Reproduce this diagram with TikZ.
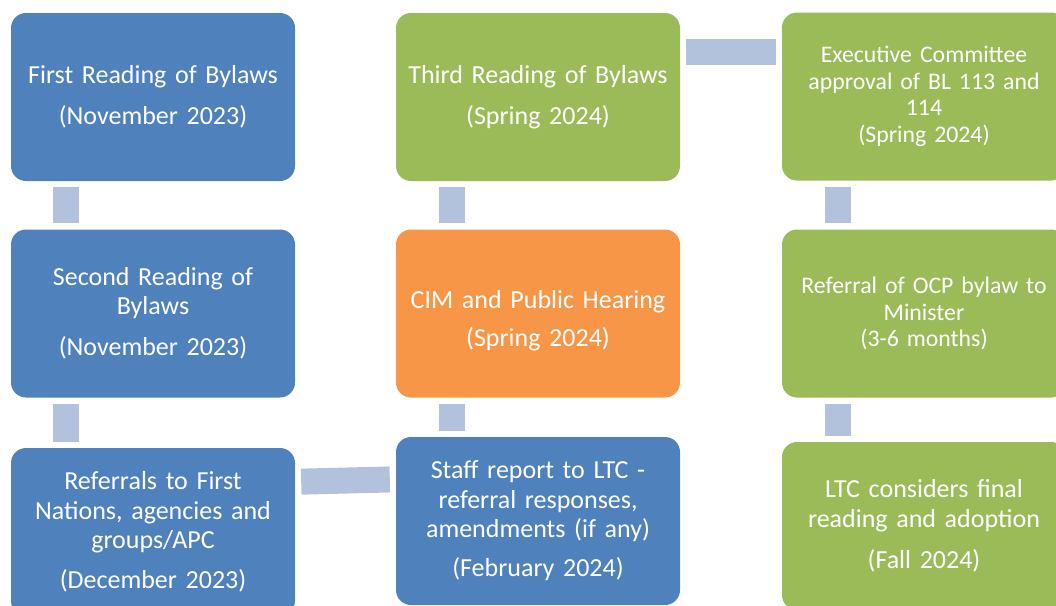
\documentclass[tikz,border=0pt]{standalone}
\usepackage{fontspec}
\setmainfont{Carlito}
\usetikzlibrary{calc}
\definecolor{bblue}{HTML}{4F81BD}
\definecolor{bgreen}{HTML}{9BBB59}
\definecolor{borange}{HTML}{F79646}
\definecolor{conncol}{HTML}{B3C2DC}
\tikzset{
  box/.style={rectangle, rounded corners=15pt, minimum width=284pt, minimum height=168pt,
    inner sep=0pt, text width=276pt, align=center, text=white,
    font=\fontsize{26pt}{29.5pt}\selectfont},
  smallbox/.style={box, font=\fontsize{23.8pt}{26.5pt}\selectfont},
  txt/.style={inner sep=0pt, text width=276pt, align=center, text=white,
    font=\fontsize{26pt}{29.5pt}\selectfont},
  conn/.style={draw=conncol, line width=26pt, line cap=butt},
  vconn/.style={conn, shorten <=6pt, shorten >=6pt}
}
\begin{document}
\begin{tikzpicture}[x=1pt,y=-1pt]
\useasboundingbox (0,0) rectangle (1056,605);
% column 1
\node[box, fill=bblue] (b1) at (153,97) {First Reading of Bylaws\\[11.5pt](November 2023)};
\node[box, fill=bblue] (b2) at (153,313.5) {Second Reading of\\Bylaws\\[11.5pt](November 2023)};
\node[box, fill=bblue] (b3) at (153,532) {Referrals to First\\Nations, agencies and\\groups/APC\\[10.5pt](December 2023)};
% column 2
\node[box, fill=bgreen] (b4) at (538,97) {Third Reading of Bylaws\\[11.5pt](Spring 2024)};
\node[box, fill=borange] (b5) at (538,313.5) {};
\node[txt] (t5) at (538,320.5) {CIM and Public Hearing\\[8.5pt](Spring 2024)};
\node[box, fill=bblue] (b6) at (538,521) {Staff report to LTC -\\referral responses,\\amendments (if any)\\[9.5pt](February 2024)};
% column 3
\node[smallbox, fill=bgreen] (b7) at (924,96.5) {Executive Committee\\approval of BL 113 and\\114\\(Spring 2024)};
\node[smallbox, fill=bgreen] (b8) at (924,313.5) {Referral of OCP bylaw to\\Minister\\(3-6 months)};
\node[box, fill=bgreen] (b9) at (924,526) {LTC considers final\\reading and adoption\\[11.5pt](Fall 2024)};
% connectors
\draw[vconn] ($(b1.south west)+(55.5,0)$) -- ($(b2.north west)+(55.5,0)$);
\draw[vconn] ($(b2.south west)+(55.5,0)$) -- ($(b3.north west)+(55.5,0)$);
\draw[vconn] ($(b4.south west)+(56,0)$) -- ($(b5.north west)+(56,0)$);
\draw[vconn] ($(b5.south west)+(56,0)$) -- ($(b6.north west)+(56,0)$);
\draw[vconn] ($(b7.south west)+(56,0)$) -- ($(b8.north west)+(56,0)$);
\draw[vconn] ($(b8.south west)+(56,0)$) -- ($(b9.north west)+(56,0)$);
\draw[conn, shorten <=6pt, shorten >=6pt] ($(b3.north east)+(0,34)$) -- ($(b6.north west)+(0,42.5)$);
\draw[conn, shorten <=6pt, shorten >=6pt] ($(b4.north east)+(0,39.5)$) -- ($(b7.north west)+(0,40)$);
\end{tikzpicture}
\end{document}
